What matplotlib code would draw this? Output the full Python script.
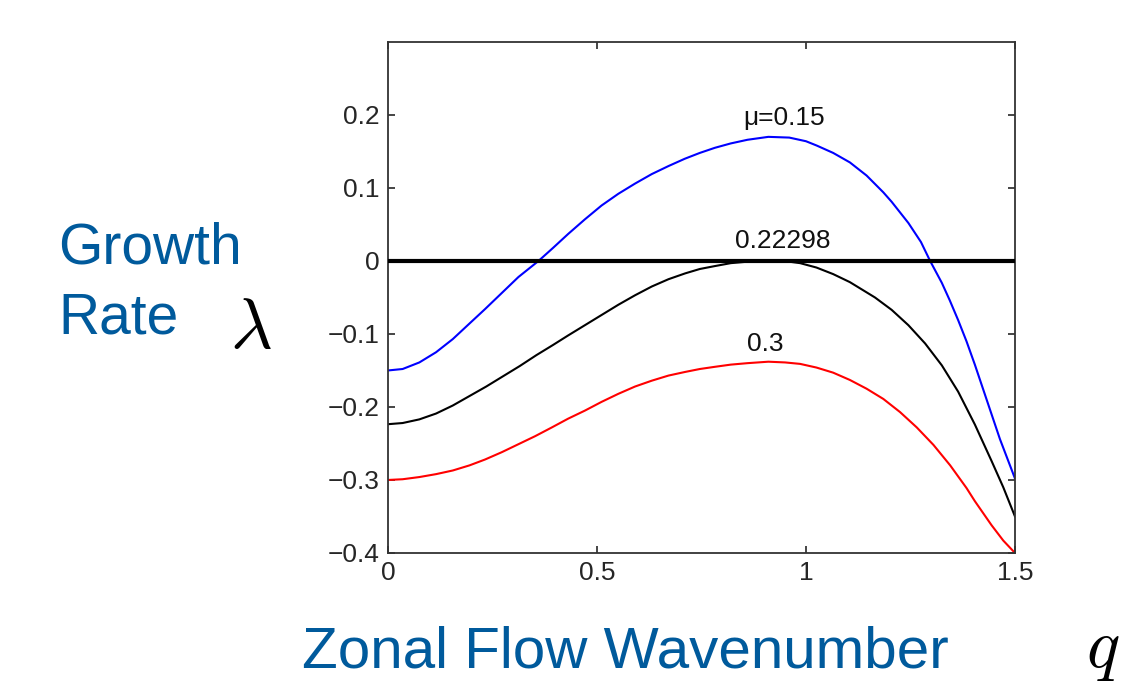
import numpy as np
import matplotlib.pyplot as plt

plt.rcParams['font.family'] = ['Liberation Sans', 'DejaVu Sans']
plt.rcParams['mathtext.fontset'] = 'cm'

# growth rate curves, one per mu value
q_blue = [0, 0.035, 0.075, 0.115, 0.155, 0.2, 0.232, 0.272, 0.312, 0.36, 0.395, 0.431, 0.471,
          0.511, 0.551, 0.591, 0.631, 0.671, 0.71, 0.746, 0.782, 0.82, 0.86, 0.91, 0.96, 1.0,
          1.026, 1.065, 1.105, 1.145, 1.185, 1.205, 1.245, 1.275, 1.297, 1.325, 1.344, 1.364,
          1.384, 1.404, 1.424, 1.444, 1.464, 1.486, 1.5]
lam_blue = [-0.150, -0.148, -0.139, -0.125, -0.107, -0.083, -0.066, -0.044, -0.022, 0.0, 0.018,
            0.037, 0.057, 0.076, 0.092, 0.106, 0.119, 0.130, 0.140, 0.148, 0.155, 0.161, 0.166,
            0.170, 0.169, 0.164, 0.158, 0.148, 0.135, 0.117, 0.094, 0.081, 0.052, 0.026, 0.0,
            -0.030, -0.054, -0.081, -0.110, -0.142, -0.176, -0.210, -0.244, -0.277, -0.298]

q_black = [0, 0.035, 0.075, 0.115, 0.155, 0.195, 0.235, 0.275, 0.315, 0.355, 0.395, 0.431, 0.471,
           0.511, 0.551, 0.591, 0.631, 0.671, 0.711, 0.746, 0.782, 0.82, 0.86, 0.91, 0.96, 0.986,
           1.025, 1.065, 1.105, 1.145, 1.165, 1.205, 1.245, 1.285, 1.325, 1.364, 1.404, 1.444,
           1.472, 1.5]
lam_black = [-0.2236, -0.222, -0.217, -0.209, -0.198, -0.185, -0.172, -0.158, -0.144, -0.129,
             -0.115, -0.102, -0.088, -0.074, -0.060, -0.047, -0.035, -0.025, -0.017, -0.011,
             -0.007, -0.003, -0.001, 0.0, -0.001, -0.003, -0.009, -0.018, -0.029, -0.043, -0.050,
             -0.067, -0.088, -0.113, -0.143, -0.179, -0.224, -0.274, -0.310, -0.350]

q_red = [0, 0.035, 0.075, 0.115, 0.155, 0.195, 0.232, 0.272, 0.312, 0.352, 0.392, 0.431, 0.471,
         0.511, 0.551, 0.591, 0.631, 0.671, 0.711, 0.746, 0.782, 0.82, 0.86, 0.91, 0.95, 0.986,
         1.025, 1.065, 1.105, 1.145, 1.185, 1.225, 1.265, 1.305, 1.345, 1.384, 1.404, 1.444,
         1.472, 1.5]
lam_red = [-0.300, -0.299, -0.296, -0.292, -0.287, -0.280, -0.272, -0.262, -0.251, -0.240, -0.228,
           -0.216, -0.205, -0.193, -0.182, -0.172, -0.164, -0.157, -0.152, -0.148, -0.145, -0.142,
           -0.140, -0.138, -0.139, -0.141, -0.146, -0.153, -0.163, -0.175, -0.189, -0.207, -0.228,
           -0.252, -0.280, -0.311, -0.329, -0.362, -0.383, -0.400]

mu_labels = ['\u03bc=0.15', '0.22298', '0.3']
label_pos = [(0.947, 0.1866), (0.944, 0.0174), (0.902, -0.1235)]

xticks = [0, 0.5, 1, 1.5]
yticks = [-0.4, -0.3, -0.2, -0.1, 0, 0.1, 0.2]

blue_txt = '#005a9c'

fig = plt.figure(figsize=(11.26, 6.81), dpi=100)
ax = fig.add_axes([0.3446, 0.188, 0.5568, 0.7504])

ax.axhline(0, color='black', lw=3.0, zorder=3)
ax.plot(q_blue, lam_blue, color='#0000ff', lw=1.5, solid_joinstyle='round')
ax.plot(q_black, lam_black, color='black', lw=1.5, solid_joinstyle='round')
ax.plot(q_red, lam_red, color='#ff0000', lw=1.5, solid_joinstyle='round')

for txt, (x, y) in zip(mu_labels, label_pos):
    ax.text(x, y, txt, fontsize=19, ha='center', va='baseline', color='#111111')

ax.set_xlim(0, 1.5)
ax.set_ylim(-0.4, 0.3)
ax.set_xticks(xticks)
ax.set_xticklabels(['0', '0.5', '1', '1.5'])
ax.set_yticks(yticks)
ax.set_yticklabels(['\u22120.4', '\u22120.3', '\u22120.2', '\u22120.1', '0', '0.1', '0.2'])
ax.tick_params(direction='in', length=5, width=1.2, top=True, right=True,
               labelsize=19, colors='#262626', pad=6)
for s in ax.spines.values():
    s.set_linewidth(1.3)
    s.set_color('#333333')

fig.text(58 / 1126, 1 - 263 / 681, 'Growth', fontsize=41, color=blue_txt, ha='left', va='baseline')
fig.text(58 / 1126, 1 - 333 / 681, 'Rate', fontsize=41, color=blue_txt, ha='left', va='baseline')
fig.text(230 / 1126, 1 - 348 / 681, r'$\lambda$', fontsize=52, color='black', ha='left', va='baseline')
fig.text(302 / 1126, 1 - 667 / 681, 'Zonal Flow Wavenumber', fontsize=42, color=blue_txt,
         ha='left', va='baseline')
fig.text(1086 / 1126, 1 - 667 / 681, r'$q$', fontsize=50, color='black', ha='left', va='baseline')

fig.savefig('out.png', dpi=100)
